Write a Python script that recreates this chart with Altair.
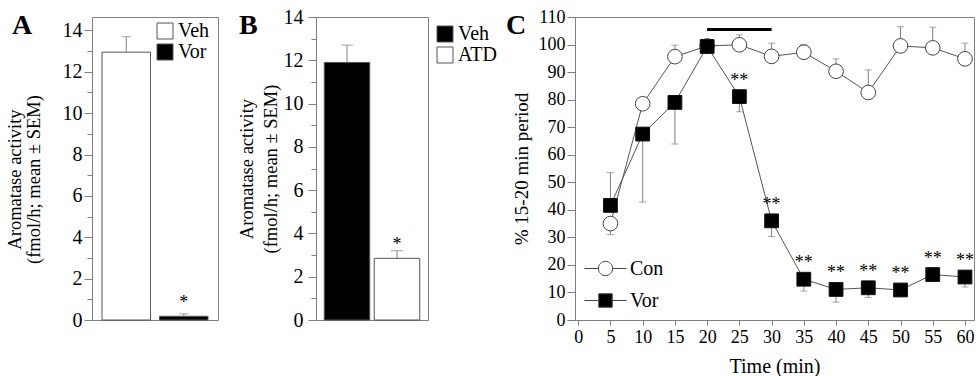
import altair as alt
import pandas as pd

# ---------------- data ----------------
# Panel A
a_groups = ["Veh", "Vor"]
a_means = [12.95, 0.18]
a_err_top = [13.7, 0.3]
a_sig = ["", "*"]

# Panel B
b_groups = ["Veh", "ATD"]
b_means = [11.9, 2.85]
b_err_top = [12.7, 3.2]
b_sig = ["", "*"]

# Panel C
times = [5, 10, 15, 20, 25, 30, 35, 40, 45, 50, 55, 60]
con_mean = [35.0, 78.5, 95.6, 99.5, 99.9, 95.7, 97.2, 90.3, 82.6, 99.5, 98.8, 94.8]
con_err = [31.0, 78.5, 99.8, 99.5, 103.5, 100.5, 100.0, 94.8, 90.8, 106.5, 106.3, 100.5]
vor_mean = [41.6, 67.5, 79.0, 99.3, 81.1, 36.0, 14.8, 11.1, 11.7, 10.9, 16.5, 15.6]
vor_err = [53.5, 42.8, 63.9, 99.3, 75.6, 30.3, 10.5, 6.5, 8.2, 10.9, 16.5, 12.0]
vor_sig = ["", "", "", "", "**", "**", "**", "**", "**", "**", "**", "**"]
treat_window = [20, 30]
treat_level = 105.5
series_names = ["Con", "Vor"]

# ---------------- style ----------------
FONT = "Liberation Serif"
FRAME = "#808080"
ERR = "#808080"
H = 303


def bar_panel(field, groups, means, errs, sigs, colors, ymax, width, pin, pout,
              letter, letter_x, title_lh, title_pad, title_y, label_pad, leg_x, leg_y, cap):
    df = pd.DataFrame({field: groups, "mean": means, "err": errs, "sig": sigs})
    x = alt.X(field + ":N", sort=groups,
              scale=alt.Scale(domain=groups, paddingInner=pin, paddingOuter=pout),
              axis=None)
    ax = dict(values=list(range(0, 15)),
              labelExpr="datum.value % 2 === 0 ? datum.label : ''",
              tickSize={"condition": {"test": "datum.value % 2 !== 0", "value": 5}, "value": 8},
              title=["Aromatase activity", "(fmol/h; mean \u00b1 SEM)"],
              titleLineHeight=title_lh, titlePadding=title_pad,
              grid=False, domainColor=FRAME, tickColor=FRAME,
              labelPadding=label_pad, labelFontSize=20, titleFontSize=18.5,
              labelColor="black", titleColor="black", titleFontWeight="normal",
              labelFont=FONT, titleFont=FONT, labelOverlap=False)
    if title_y is not None:
        ax["titleY"] = title_y
    yscale = alt.Scale(domain=[0, ymax], nice=False, zero=True)

    def Y(f):
        return alt.Y(f + ":Q", scale=yscale, axis=alt.Axis(**ax))

    bars = alt.Chart(df).mark_bar(stroke="#555555", strokeWidth=1).encode(
        x=x, y=Y("mean"),
        fill=alt.Fill(field + ":N", scale=alt.Scale(domain=groups, range=colors),
                      legend=alt.Legend(title=None, orient="none", legendX=leg_x, legendY=leg_y,
                                        symbolType="square", symbolSize=256,
                                        symbolStrokeColor="#555555", symbolStrokeWidth=1,
                                        labelFont=FONT, labelFontSize=20, labelColor="black",
                                        labelOffset=3, rowPadding=1, padding=0)))
    rule = alt.Chart(df).mark_rule(color=ERR, strokeWidth=1).encode(
        x=x, y=Y("mean"), y2="err:Q")
    caps = alt.Chart(df).mark_tick(color=ERR, thickness=1, size=cap).encode(
        x=x, y=Y("err"))
    stars = alt.Chart(df).mark_text(font=FONT, fontSize=18, baseline="alphabetic", dy=-8).encode(
        x=x, y=Y("mean"), text="sig:N")
    lab = alt.Chart(pd.DataFrame({"t": [letter]})).mark_text(
        font=FONT, fontSize=28, fontWeight="bold", align="left", baseline="alphabetic").encode(
        text="t:N", x=alt.value(letter_x), y=alt.value(17))
    return alt.layer(bars, rule, caps, stars, lab).properties(width=width, height=H)


panelA = bar_panel("groupA", a_groups, a_means, a_err_top, a_sig, ["white", "black"], 14.65, 126,
                   0.157, 0.174, "A", -80, 18.5, 19, 162, 2, 63, 4, 9)
panelB = bar_panel("groupB", b_groups, b_means, b_err_top, b_sig, ["black", "white"], 14.0, 112,
                   0.09, 0.165, "B", -77, 24, 3, None, 5, 119, 7, 12)

# ---------------- panel C ----------------
dfC = pd.DataFrame({
    "time": times * 2,
    "series": ["Con"] * len(times) + ["Vor"] * len(times),
    "mean": con_mean + vor_mean,
    "err": con_err + vor_err,
    "sig": [""] * len(times) + vor_sig,
})
dfT = pd.DataFrame({"time": [treat_window[0]], "time_end": [treat_window[1]], "mean": [treat_level]})

xscaleC = alt.Scale(domain=[-0.5, 61.4], nice=False, zero=False)
yscaleC = alt.Scale(domain=[0, 110], nice=False)
xaxC = dict(values=list(range(0, 61, 5)), title="Time (min)", grid=False,
            tickSize=5, labelPadding=3, titlePadding=10,
            labelFontSize=18, titleFontSize=20, labelFont=FONT, titleFont=FONT,
            labelColor="black", titleColor="black", titleFontWeight="normal",
            domainColor=FRAME, tickColor=FRAME, labelFlush=False, labelOverlap=False)
yaxC = dict(values=list(range(0, 111, 10)), title="% 15-20 min period", grid=False,
            tickSize=8, labelPadding=2, titlePadding=7,
            labelFontSize=18, titleFontSize=19, labelFont=FONT, titleFont=FONT,
            labelColor="black", titleColor="black", titleFontWeight="normal",
            domainColor=FRAME, tickColor=FRAME, labelOverlap=False)


def XC(f="time"):
    return alt.X(f + ":Q", scale=xscaleC, axis=alt.Axis(**xaxC))


def YC(f="mean"):
    return alt.Y(f + ":Q", scale=yscaleC, axis=alt.Axis(**yaxC))


con_path = "M-1,0H-0.34M0.34,0H1M-0.34,0A0.34,0.34,0,1,1,0.34,0A0.34,0.34,0,1,1,-0.34,0Z"
vor_path = "M-1,0H-0.32M0.32,0H1M-0.32,-0.32H0.32V0.32H-0.32Z"
fillC = alt.Fill("series:N", scale=alt.Scale(domain=series_names, range=["white", "black"]),
                 legend=alt.Legend(title=None, orient="none", legendX=9, legendY=230,
                                   symbolType=alt.expr("datum.value === 'Con' ? '" + con_path + "' : '" + vor_path + "'"),
                                   symbolSize=1764, symbolStrokeColor="#444444", symbolStrokeWidth=1,
                                   labelFont=FONT, labelFontSize=20, labelColor="black",
                                   labelOffset=3, rowPadding=-1.5, padding=0))

lines = alt.Chart(dfC).mark_line(color="#555555", strokeWidth=1).encode(
    x=XC(), y=YC(), detail="series:N")
erules = alt.Chart(dfC).mark_rule(color=ERR, strokeWidth=1).encode(
    x=XC(), y=YC(), y2="err:Q")
ecaps = alt.Chart(dfC).mark_tick(color=ERR, thickness=1, size=7, orient="horizontal").encode(
    x=XC(), y=YC("err"))
con_pts = alt.Chart(dfC).transform_filter("datum.series === 'Con'").mark_point(
    filled=True, shape="circle", size=215, stroke="#444444", strokeWidth=1, opacity=1).encode(
    x=XC(), y=YC(), fill=fillC)
vor_pts = alt.Chart(dfC).transform_filter("datum.series === 'Vor'").mark_point(
    filled=True, shape="square", size=190, stroke="#111111", strokeWidth=1, opacity=1).encode(
    x=XC(), y=YC(), fill=fillC)
starsC = alt.Chart(dfC).mark_text(font=FONT, fontSize=18, baseline="alphabetic", dy=-11).encode(
    x=XC(), y=YC(), text="sig:N")
treat = alt.Chart(dfT).mark_rule(color="black", strokeWidth=3).encode(
    x=XC(), x2="time_end:Q", y=YC())
labC = alt.Chart(pd.DataFrame({"t": ["C"]})).mark_text(
    font=FONT, fontSize=28, fontWeight="bold", align="left", baseline="alphabetic").encode(
    text="t:N", x=alt.value(-69), y=alt.value(17))

panelC = alt.layer(lines, erules, ecaps, con_pts, vor_pts, starsC, treat, labC).properties(
    width=399, height=H)


def spacer(w):
    return alt.Chart(pd.DataFrame({"t": [""]})).mark_text().encode(
        text="t:N", x=alt.value(0), y=alt.value(0)).properties(
        width=w, height=H, view=alt.ViewBackground(stroke="transparent"))


chart = alt.hconcat(panelA, spacer(98), panelB, spacer(147), panelC,
                    spacing=0, bounds="flush").resolve_scale(
    fill="independent", x="independent", y="independent"
).resolve_legend(fill="independent").properties(
    padding={"left": 5, "top": 6, "right": 0, "bottom": 0}
).configure_view(stroke=FRAME, strokeWidth=1).configure_axis(
    labelFont=FONT, titleFont=FONT
).configure_legend(labelFont=FONT).configure_text(font=FONT)

chart.save("out.html", embed_options={"renderer": "svg", "actions": False})
